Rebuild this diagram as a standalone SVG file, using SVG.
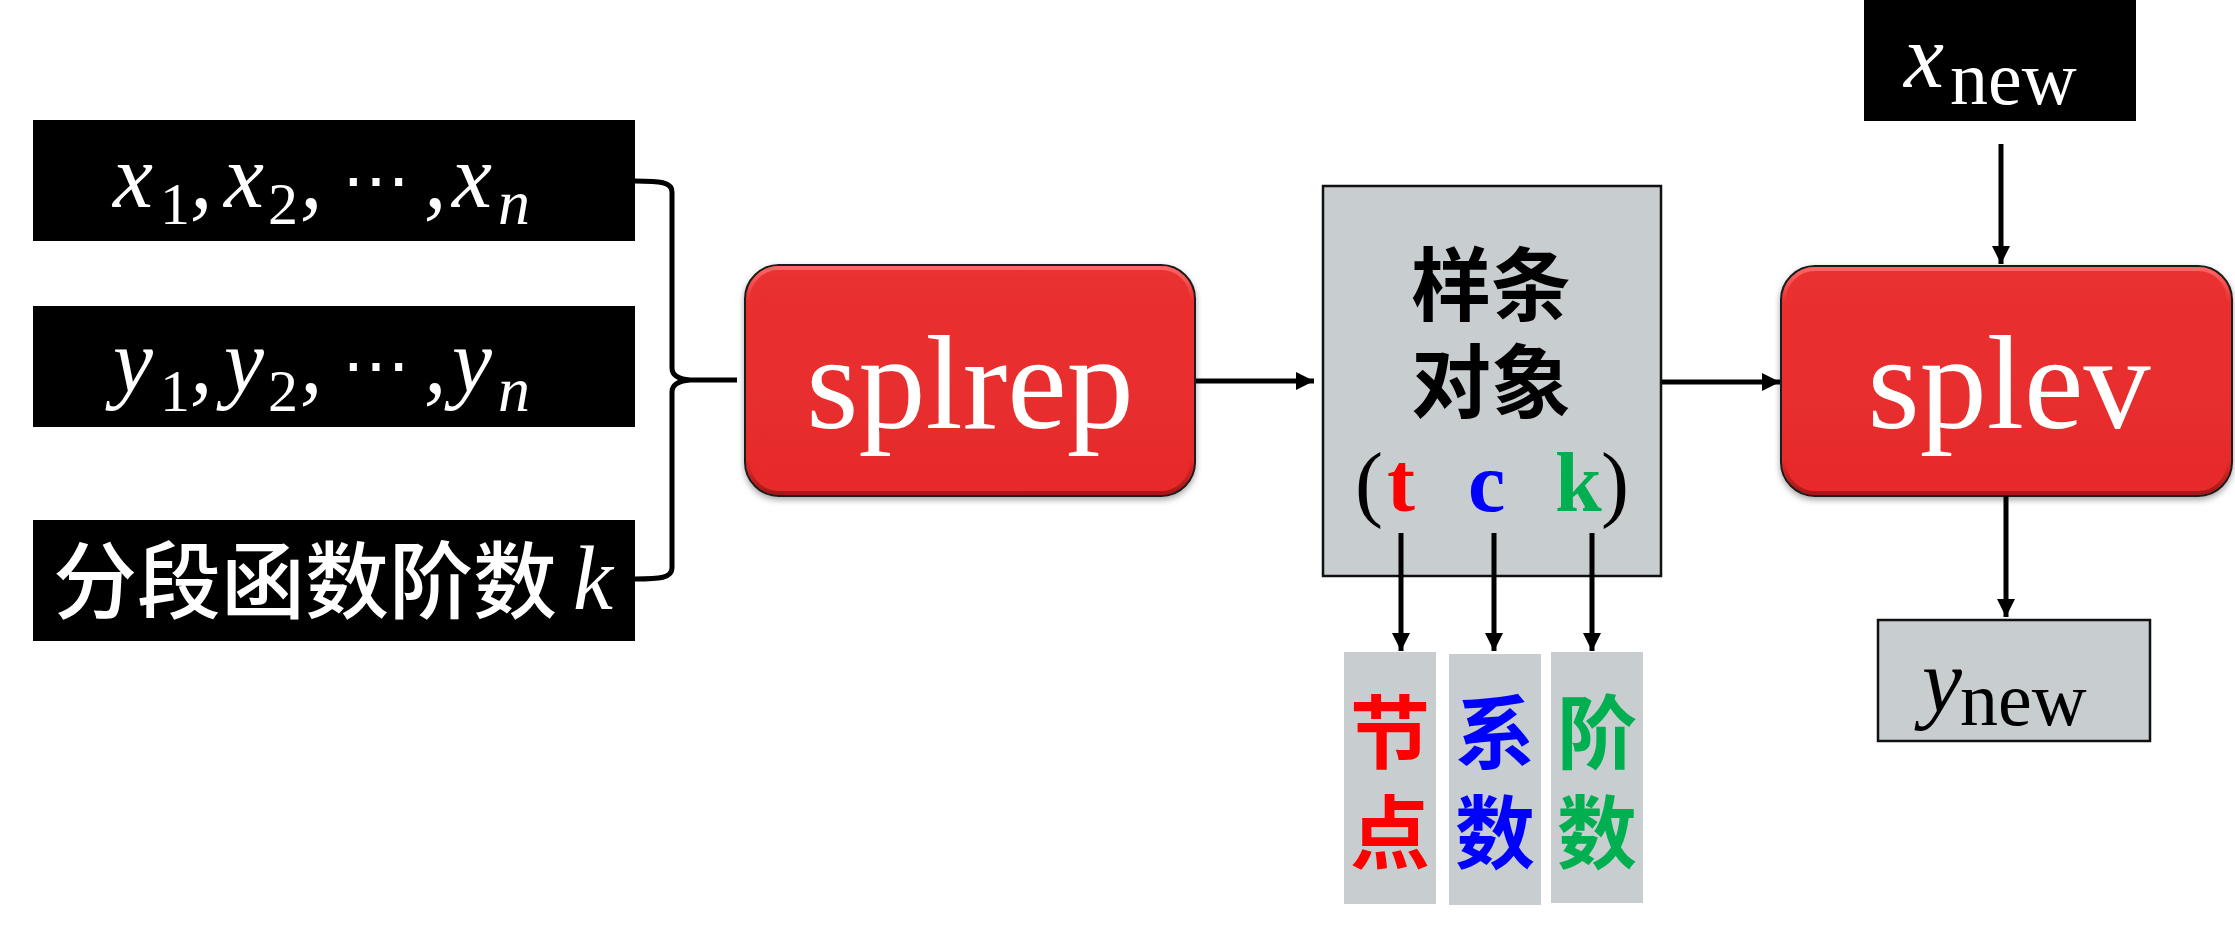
<svg xmlns="http://www.w3.org/2000/svg" width="2235" height="931" viewBox="0 0 2235 931">
<style>
.blk{fill:#000}
.gray{fill:#C8CDD0;stroke:#111;stroke-width:2.5}
.gray2{fill:#C8CDD0}
.red{fill:url(#redg);stroke:#1a1a1a;stroke-width:2}
.hl{fill:none;stroke:url(#hlg);stroke-width:4}
.math{font-family:"Liberation Serif","DejaVu Serif",serif;font-style:italic;font-size:90px}
.up{font-family:"Liberation Serif","DejaVu Serif",serif;font-style:normal}
.cjk{font-family:"Noto Sans CJK SC","Noto Sans",sans-serif}
.fn{font-family:"Liberation Serif","DejaVu Serif",serif;font-size:134px;fill:#fff;text-anchor:middle}
.conn{stroke:#000;stroke-width:5;fill:none}
</style>
<defs>
<linearGradient id="redg" x1="0" y1="0" x2="0" y2="1">
<stop offset="0" stop-color="#EA3030"/>
<stop offset="1" stop-color="#E62B2B"/>
</linearGradient>
<linearGradient id="hlg" x1="0" y1="0" x2="0" y2="1">
<stop offset="0" stop-color="#FF6A6A" stop-opacity="0.9"/>
<stop offset="0.15" stop-color="#FF6A6A" stop-opacity="0"/>
<stop offset="0.85" stop-color="#8A1010" stop-opacity="0"/>
<stop offset="1" stop-color="#8A1010" stop-opacity="0.7"/>
</linearGradient>
<filter id="sh" x="-5%" y="-5%" width="110%" height="115%">
<feDropShadow dx="0" dy="3" stdDeviation="3" flood-color="#000" flood-opacity="0.35"/>
</filter>
<marker id="ah" markerUnits="userSpaceOnUse" markerWidth="20" markerHeight="20" viewBox="0 0 20 20" refX="18" refY="10" orient="auto">
<path d="M0,1 L18,10 L0,19 Z" fill="#000"/>
</marker>
</defs>

<g id="input-x">
<rect class="blk" x="33" y="120" width="602" height="121"/>
<text class="math" fill="#fff" y="207"><tspan x="113">x</tspan><tspan class="up" font-size="60" x="160" y="224">1</tspan><tspan x="190" y="207">,</tspan><tspan x="224">x</tspan><tspan class="up" font-size="60" x="268" y="224">2</tspan><tspan x="300" y="207">,</tspan><tspan class="up" font-size="68" x="342" y="204">⋯</tspan><tspan x="424" y="207">,</tspan><tspan x="452">x</tspan><tspan font-size="64" x="498" y="224">n</tspan></text>
</g>

<g id="input-y">
<rect class="blk" x="33" y="306" width="602" height="121"/>
<text class="math" fill="#fff" y="392"><tspan x="113">y</tspan><tspan class="up" font-size="60" x="160" y="411">1</tspan><tspan x="190" y="392">,</tspan><tspan x="224">y</tspan><tspan class="up" font-size="60" x="268" y="411">2</tspan><tspan x="300" y="392">,</tspan><tspan class="up" font-size="68" x="342" y="389">⋯</tspan><tspan x="424" y="392">,</tspan><tspan x="452">y</tspan><tspan font-size="64" x="498" y="411">n</tspan></text>
</g>

<g id="input-k">
<rect class="blk" x="33" y="520" width="602" height="121"/>
<text class="cjk" fill="#fff" font-size="84" font-weight="500" x="53" y="612">分段函数阶数</text>
<text class="math" fill="#fff" x="573" y="609">k</text>
</g>

<g id="splrep">
<rect class="red" filter="url(#sh)" x="745" y="265" width="450" height="231" rx="34" ry="34"/>
<rect class="hl" x="748" y="268" width="444" height="225" rx="31" ry="31"/>
<text class="fn" x="970" y="428">splrep</text>
</g>

<g id="spline-object">
<rect class="gray" x="1323" y="186" width="338" height="390"/>
<text class="cjk" font-size="80" font-weight="bold" text-anchor="middle" x="1491" y="314">样条</text>
<text class="cjk" font-size="80" font-weight="bold" text-anchor="middle" x="1491" y="411">对象</text>
<text class="up" font-size="84" y="511"><tspan x="1355">(</tspan><tspan x="1387" fill="#FF0000" font-weight="bold">t</tspan><tspan x="1468" fill="#0000FF" font-weight="bold">c</tspan><tspan x="1555" fill="#00B050" font-weight="bold">k</tspan><tspan x="1601">)</tspan></text>
</g>

<g id="knots">
<rect class="gray2" x="1344" y="652" width="92" height="252"/>
<text class="cjk" font-size="80" font-weight="bold" fill="#FF0000" text-anchor="middle" x="1390" y="762">节</text>
<text class="cjk" font-size="80" font-weight="bold" fill="#FF0000" text-anchor="middle" x="1390" y="862">点</text>
</g>

<g id="coefficients">
<rect class="gray2" x="1449" y="654" width="92" height="251"/>
<text class="cjk" font-size="80" font-weight="bold" fill="#0000FF" text-anchor="middle" x="1495" y="762">系</text>
<text class="cjk" font-size="80" font-weight="bold" fill="#0000FF" text-anchor="middle" x="1495" y="862">数</text>
</g>

<g id="degree">
<rect class="gray2" x="1551" y="652" width="92" height="251"/>
<text class="cjk" font-size="80" font-weight="bold" fill="#00B050" text-anchor="middle" x="1597" y="762">阶</text>
<text class="cjk" font-size="80" font-weight="bold" fill="#00B050" text-anchor="middle" x="1597" y="862">数</text>
</g>

<g id="x-new">
<rect class="blk" x="1864" y="0" width="272" height="121"/>
<text class="math" fill="#fff" font-size="90" x="1904" y="87">x</text>
<text class="up" fill="#fff" font-size="76" x="1950" y="104">new</text>
</g>

<g id="splev">
<rect class="red" filter="url(#sh)" x="1781" y="266" width="451" height="230" rx="34" ry="34"/>
<rect class="hl" x="1784" y="269" width="445" height="224" rx="31" ry="31"/>
<text class="fn" x="2009" y="428">splev</text>
</g>

<g id="y-new">
<rect class="gray" x="1878" y="620" width="272" height="121"/>
<text class="math" fill="#000" font-size="90" x="1922" y="712">y</text>
<text class="up" fill="#000" font-size="76" x="1960" y="725">new</text>
</g>

<g id="connectors">
<path class="conn" d="M635,181 C660,181 672,182 672,192 L672,368 C672,375 678,379 690,380 L737,380 M690,380 C678,381 672,385 672,392 L672,568 C672,578 660,579 635,579"/>
<line class="conn" x1="1196" y1="381" x2="1314" y2="381" marker-end="url(#ah)"/>
<line class="conn" x1="1662" y1="382" x2="1780" y2="382" marker-end="url(#ah)"/>
<line class="conn" x1="2001" y1="144" x2="2001" y2="264" marker-end="url(#ah)"/>
<line class="conn" x1="2006" y1="496" x2="2006" y2="617" marker-end="url(#ah)"/>
<line class="conn" x1="1401" y1="533" x2="1401" y2="651" marker-end="url(#ah)"/>
<line class="conn" x1="1494" y1="533" x2="1494" y2="651" marker-end="url(#ah)"/>
<line class="conn" x1="1592" y1="533" x2="1592" y2="651" marker-end="url(#ah)"/>
</g>
</svg>
